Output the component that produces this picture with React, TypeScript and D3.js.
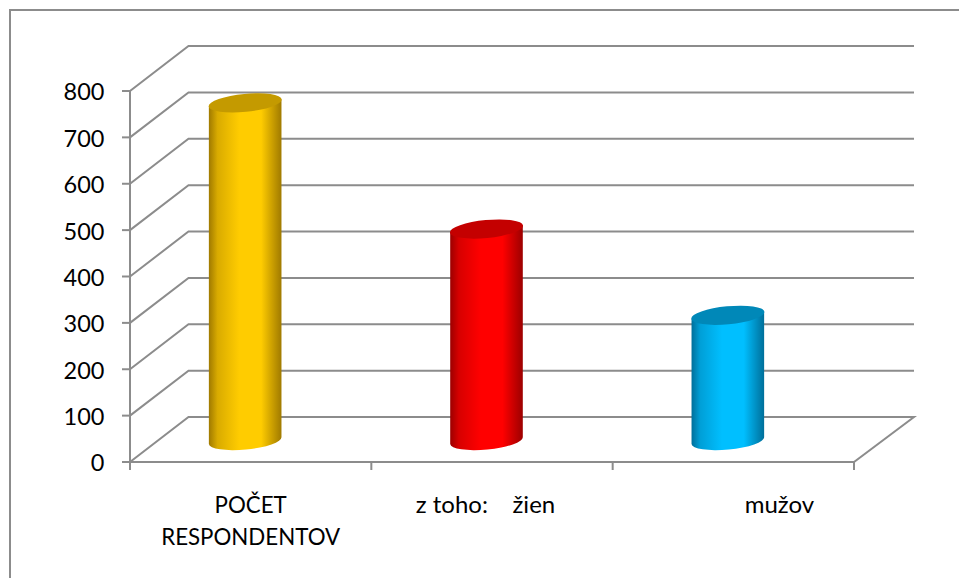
import React from "react";
import * as d3 from "d3";

const categories = ["POČET|RESPONDENTOV", "z toho:    žien", "               mužov"];
const values = [728, 456, 270];
const ticks = [0, 100, 200, 300, 400, 500, 600, 700, 800];
const barBase = ["#ffcc00", "#ff0000", "#00bfff"];
const barDark = ["#a07a00", "#9c0000", "#006f9a"];
const barTop = ["#c49a00", "#c40000", "#0088b8"];

const y = d3.scaleLinear().domain([0, 800]).range([462, 91]);
const x = d3.scaleBand<number>().domain([0, 1, 2]).range([130, 854]);
const DX = 58.5, DY = -45;
const GRID = "#8c8c8c";

export default function App() {
  const rx = 36.3, ry = 9;
  const angle = -5.5;
  const slope = Math.tan((angle * Math.PI) / 180);
  return (
    <svg width={959} height={578} style={{ position: "absolute", left: 0, top: 0 }} fontFamily="Lato, 'Open Sans', sans-serif">
      <defs>
        {barBase.map((c, i) => (
          <linearGradient key={i} id={`g${i}`} x1="0" x2="1" y1="0" y2="0">
            <stop offset="0" stopColor={barDark[i]} />
            <stop offset="0.12" stopColor={d3.interpolateRgb(barDark[i], c)(0.6)} />
            <stop offset="0.42" stopColor={c} />
            <stop offset="0.72" stopColor={c} />
            <stop offset="1" stopColor={barDark[i]} />
          </linearGradient>
        ))}
      </defs>
      <rect x={10} y={10} width={1000} height={620} fill="#fff" stroke={GRID} strokeWidth={2} />
      {ticks.map((t) => (
        <g key={t} stroke={GRID} strokeWidth={2} fill="none">
          {t > 0 && <path d={`M${130},${y(t)}L${130 + DX},${y(t) + DY}H914`} />}
          <path d={`M122,${y(t)}H130`} />
        </g>
      ))}
      <g stroke={GRID} strokeWidth={2} fill="none">
        <path d={`M130,${y(800)}V470`} />
        <path d={`M130,${y(0)}H854L914,${y(0) + DY}H${130 + DX}L130,${y(0)}`} />
        {[0, 1, 2, 3].map((i) => {
          const px = i < 3 ? x(i)! : 854;
          return <path key={i} d={`M${px},462V470`} />;
        })}
      </g>
      {values.map((v, i) => {
        const cx = x(i)! + x.bandwidth() / 2 - 5.5;
        const yB = y(0) - 21.5;
        const yT = y(v) - 21.5;
        const l = cx - rx, r = cx + rx;
        const dy = rx * slope;
        return (
          <g key={i}>
            <path
              d={`M${l},${yT - dy}L${l},${yB - dy}A${rx},${ry} ${angle} 0 0 ${r},${yB + dy}L${r},${yT + dy}Z`}
              fill={`url(#g${i})`}
            />
            <ellipse cx={cx} cy={yT} rx={rx + 0.4} ry={ry} transform={`rotate(${angle} ${cx} ${yT})`} fill={barTop[i]} />
          </g>
        );
      })}
      {ticks.map((t) => (
        <text key={t} x={104.5} y={y(t)} dy="0.40em" textAnchor="end" fontSize={23.5} fill="#000">
          {t}
        </text>
      ))}
      {categories.map((c, i) => (
        <text key={i} textAnchor="middle" fontSize={i === 0 ? 22.3 : 24} fill="#000" style={{ whiteSpace: "pre" }}>
          {c.split("|").map((line, j) => (
            <tspan key={j} x={x(i)! + x.bandwidth() / 2 - (i === 1 ? 6.5 : 0)} y={513 + j * 32}>
              {line}
            </tspan>
          ))}
        </text>
      ))}
    </svg>
  );
}
